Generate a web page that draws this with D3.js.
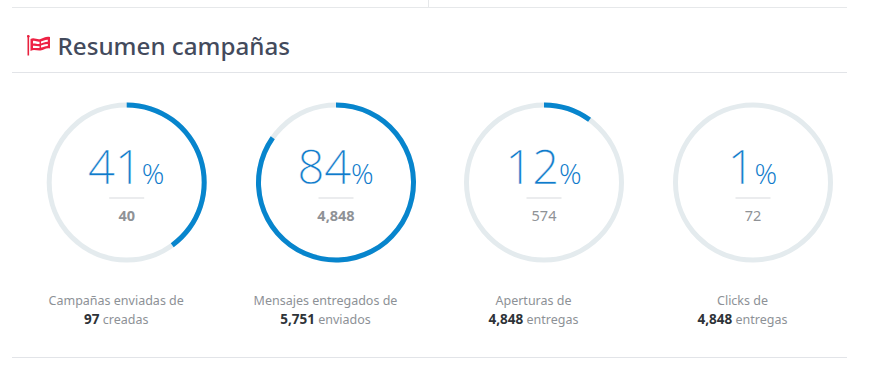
<!DOCTYPE html>
<html><head><meta charset="utf-8">
<script src="https://cdnjs.cloudflare.com/ajax/libs/d3/7.8.5/d3.min.js"></script>
<style>html,body{margin:0;padding:0;background:#fff}svg{display:block}</style></head>
<body><svg id="c" width="884" height="365"></svg>
<script>
const percents=[41,84,12,1];
const arcShares=[40,84.8,10,0];
const counts=["40","4,848","574","72"];
const countBold=[true,true,false,false];
const labels=["Campañas enviadas de","Mensajes entregados de","Aperturas de","Clicks de"];
const totals=["97","5,751","4,848","4,848"];
const units=["creadas","enviados","entregas","entregas"];
const title="Resumen campañas";
const centers=[126.7,336,544,753];

const svg=d3.select("#c");
const sans="'Noto Sans','Open Sans',sans-serif";
const rule=(x1,x2,y,c)=>svg.append("line").attr("x1",x1).attr("x2",x2).attr("y1",y).attr("y2",y).attr("stroke",c).attr("stroke-width",1);
rule(12,847,7.5,"#e6e8ea");rule(12,847,72.5,"#e2e4e8");rule(12,847,357.5,"#e2e4e8");
svg.append("line").attr("x1",428.5).attr("x2",428.5).attr("y1",0).attr("y2",7).attr("stroke","#e6e8ea");

// flag
const f=svg.append("g").attr("transform","translate(27,35)");
f.append("rect").attr("x",0.5).attr("y",0.5).attr("width",1.6).attr("height",20).attr("fill","#e8223f");
f.append("circle").attr("cx",1.3).attr("cy",1.2).attr("r",1.3).attr("fill","#e8223f");
f.append("path").attr("d","M3.5 4C7 2 10 5 13.5 4S19 1 23 2V13.5C19 12.5 17 15 13.5 15.5S7 14 3.5 16Z").attr("fill","#ee2244");
f.append("path").attr("d","M6 6C8 5.4 10 7 12.5 6.7V9C10 9.4 8 8 6 8.5ZM14 6.4C16 5.8 18 4.6 20.8 4.7V6.8C18 6.7 16 8 14 8.5ZM14 10.4C16 10 18 8.9 20.8 9V11C18 10.9 16 12.2 14 12.6ZM6 10.8C8 10.4 10 11.4 12.5 11.2V13C10 13.4 8 12.6 6 13Z").attr("fill","#fff");
svg.append("text").attr("x",57.5).attr("y",55).attr("font-family",sans).attr("font-size",24.2).attr("font-weight",500).attr("fill","#434a5c").text(title);

const R=77.5,SW=5;
const angle=d3.scaleLinear().domain([0,100]).range([0,2*Math.PI]);
const arc=d3.arc().innerRadius(R-SW/2).outerRadius(R+SW/2);
const g=svg.selectAll("g.k").data(percents).enter().append("g").attr("class","k").attr("transform",(d,i)=>`translate(${centers[i]},182.5)`);
g.append("circle").attr("r",R).attr("fill","none").attr("stroke","#e4ebee").attr("stroke-width",SW);
g.append("path").attr("fill","#0785cd").attr("d",(d,i)=>arcShares[i]>0?arc({startAngle:0,endAngle:angle(arcShares[i])}):null);
const t=g.append("text").attr("x",-0.5).attr("y",1.5).attr("text-anchor","middle").attr("font-family","'Open Sans',sans-serif").attr("font-weight",300).attr("fill","#0f7bcb");
t.append("tspan").attr("font-size",47).attr("stroke","#fff").attr("stroke-width",0.35).text(d=>d);
t.append("tspan").attr("font-size",28).text("%");
g.append("line").attr("x1",-17.5).attr("x2",17.5).attr("y1",15.5).attr("y2",15.5).attr("stroke","#e4e6e8").attr("stroke-width",1.5);
g.append("text").attr("y",38).attr("text-anchor","middle").attr("font-family",sans).attr("font-size",14.5).attr("fill","#8f9296").attr("font-weight",(d,i)=>countBold[i]?700:400).text((d,i)=>counts[i]);
g.append("text").attr("x",-10.5).attr("y",122).attr("text-anchor","middle").attr("font-family",sans).attr("font-size",12.5).attr("fill","#8d9196").text((d,i)=>labels[i]);
const b=g.append("text").attr("x",-10.5).attr("y",141).attr("text-anchor","middle").attr("font-family",sans).attr("font-size",12.5).attr("fill","#8d9196");
b.append("tspan").attr("font-weight",700).attr("font-size",13.5).attr("fill","#2e3338").text((d,i)=>totals[i]);
b.append("tspan").text((d,i)=>" "+units[i]);
</script></body></html>
